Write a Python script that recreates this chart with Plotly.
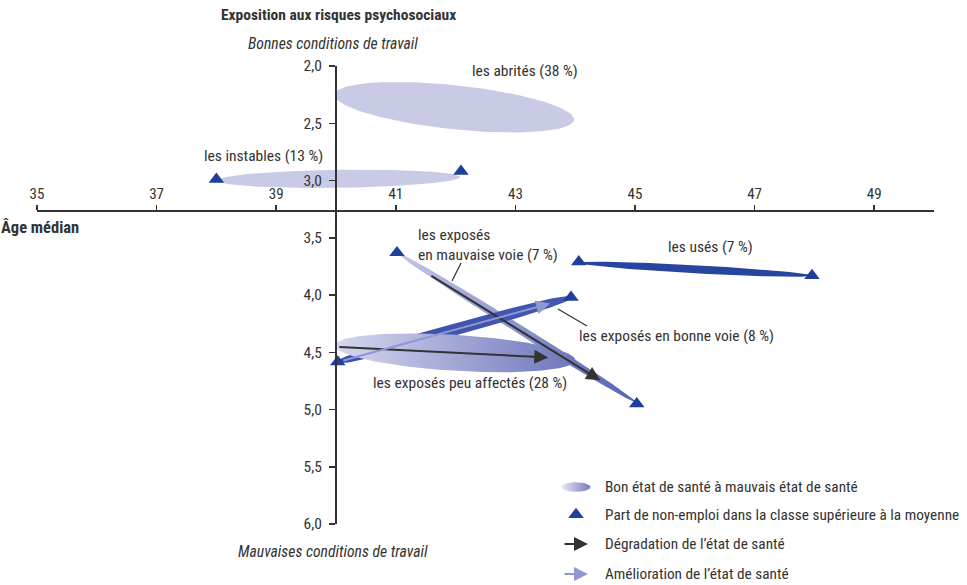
import numpy as np
import plotly.graph_objects as go

# ---------------- data ----------------
x_ticks = [35, 37, 39, 41, 43, 45, 47, 49]
y_ticks = [2.0, 2.5, 3.0, 3.5, 4.0, 4.5, 5.0, 5.5, 6.0]

group_labels = ["les abrités (38 %)", "les instables (13 %)",
                "les exposés<br>en mauvaise voie (7 %)", "les usés (7 %)",
                "les exposés en bonne voie (8 %)", "les exposés peu affectés (28 %)"]
# span of each class from one health state to the other (median age, exposure score)
span_age_start = [39.98, 38.01, 41.02, 44.06, 40.03, 39.98]
span_score_start = [2.25, 3.00, 3.63, 3.72, 4.585, 4.44]
span_age_end = [43.98, 42.07, 45.03, 47.96, 43.93, 44.00]
span_score_end = [2.47, 2.97, 4.94, 3.83, 4.02, 4.57]

# share of non-employment above average (triangles)
tri_age = [38.00, 42.09, 41.02, 45.03, 44.06, 47.96, 40.03, 43.93]
tri_score = [2.99, 2.92, 3.63, 4.95, 3.71, 3.83, 4.585, 4.02]

# evolution arrows
degr_age_from = [40.03, 41.57]
degr_score_from = [4.454, 3.825]
degr_age_to = [43.55, 44.42]
degr_score_to = [4.545, 4.745]
amel_age_from = [40.10]
amel_score_from = [4.575]
amel_age_to = [43.58]
amel_score_to = [4.074]

legend_texts = ["Bon état de santé à mauvais état de santé",
                "Part de non-emploi dans la classe supérieure à la moyenne",
                "Dégradation de l’état de santé",
                "Amélioration de l’état de santé"]

# ---------------- styling ----------------
FONT = "Liberation Sans Narrow, Arial Narrow, Roboto Condensed, Roboto, sans-serif"
TXT = "#333333"
W, H = 967, 585
ML, MR, MT, MB = 37, 33, 66, 0
X_RANGE = [35, 50]
Y_RANGE = [6.0, 2.0]
PLOT_BOTTOM_PX = 524
SX = (W - ML - MR) / (X_RANGE[1] - X_RANGE[0])            # px per year
SY = (PLOT_BOTTOM_PX - MT) / (Y_RANGE[0] - Y_RANGE[1])      # px per score unit
paper_h = H - MT - MB
y_dom0 = (H - MB - PLOT_BOTTOM_PX) / paper_h

span_half_px = [22, 9, 4.5, 4, 6, 18]
span_power = [2, 2, 2, 2, 2.6, 2]
span_colors = [("#c8cae6", "#c8cae6"), ("#c8cae6", "#c8cae6"), ("#c3c7e8", "#5563b3"),
               ("#2645a0", "#2645a0"), ("#3a4fa9", "#4558b0"), ("#d6d8ef", "#6f76bb")]
label_pos = [(43.16, 2.044, "center"), (38.78, 2.786, "center"), (41.34, 3.56, "left"),
             (46.27, 3.581, "center"), (45.69, 4.358, "center"), (42.24, 4.769, "center")]


def ellipse(x0, y0, x1, y1, half_px, power=2, n=160):
    X0, Y0, X1, Y1 = x0 * SX, y0 * SY, x1 * SX, y1 * SY
    cx, cy = (X0 + X1) / 2, (Y0 + Y1) / 2
    dx, dy = X1 - X0, Y1 - Y0
    a = np.hypot(dx, dy) / 2
    ux, uy = dx / (2 * a), dy / (2 * a)
    vx, vy = -uy, ux
    t = np.linspace(0, 2 * np.pi, n)
    c = np.sign(np.cos(t)) * np.abs(np.cos(t)) ** (2 / power)
    s = np.sign(np.sin(t)) * np.abs(np.sin(t)) ** (2 / power)
    px = cx + a * c * ux + half_px * s * vx
    py = cy + a * c * uy + half_px * s * vy
    return px / SX, py / SY


fig = go.Figure()

for i in range(len(group_labels)):
    ex, ey = ellipse(span_age_start[i], span_score_start[i], span_age_end[i],
                     span_score_end[i], span_half_px[i], span_power[i])
    c0, c1 = span_colors[i]
    kw = dict(x=ex, y=ey, mode="lines", fill="toself", line=dict(width=0),
              hoverinfo="skip", showlegend=False)
    if c0 != c1:
        kw["fillgradient"] = dict(type="horizontal", colorscale=[[0, c0], [1, c1]])
    else:
        kw["fillcolor"] = c0
    fig.add_trace(go.Scatter(**kw))

fig.add_trace(go.Scatter(x=tri_age, y=tri_score, mode="markers",
                         marker=dict(symbol="triangle-up", size=13.5, color="#1f3f9a"),
                         hoverinfo="skip", showlegend=False))

annotations = []
for xf, yf, xt, yt in zip(degr_age_from, degr_score_from, degr_age_to, degr_score_to):
    annotations.append(dict(x=xt, y=yt, ax=xf, ay=yf, xref="x", yref="y", axref="x", ayref="y",
                            text="", showarrow=True, arrowhead=2, arrowsize=1.4,
                            arrowwidth=2, arrowcolor="#333333"))
for xf, yf, xt, yt in zip(amel_age_from, amel_score_from, amel_age_to, amel_score_to):
    annotations.append(dict(x=xt, y=yt, ax=xf, ay=yf, xref="x", yref="y", axref="x", ayref="y",
                            text="", showarrow=True, arrowhead=2, arrowsize=1.4,
                            arrowwidth=2, arrowcolor="#9097d2"))

for lab, (lx, ly, al) in zip(group_labels, label_pos):
    annotations.append(dict(x=lx, y=ly, xref="x", yref="y", text=lab, showarrow=False,
                            xanchor=al, align="left", yanchor="middle",
                            font=dict(family=FONT, size=15.5, color=TXT)))


def pxx(p):
    return (p - ML) / (W - ML - MR)


def pxy(p):
    return (H - MB - p) / paper_h


# titles (paper coordinates, may lie outside the plotting area)
annotations += [
    dict(x=pxx(338), y=pxy(15), xref="paper", yref="paper", showarrow=False,
         text="<b>Exposition aux risques psychosociaux</b>", xanchor="center", yanchor="middle",
         font=dict(family=FONT, size=15.5, color=TXT)),
    dict(x=pxx(333), y=pxy(43), xref="paper", yref="paper", showarrow=False,
         text="<i>Bonnes conditions de travail</i>", xanchor="center", yanchor="middle",
         font=dict(family=FONT, size=15.7, color=TXT)),
    dict(x=pxx(333), y=pxy(551), xref="paper", yref="paper", showarrow=False,
         text="<i>Mauvaises conditions de travail</i>", xanchor="center", yanchor="middle",
         font=dict(family=FONT, size=15.7, color=TXT)),
    dict(x=pxx(40), y=pxy(228), xref="paper", yref="paper", showarrow=False,
         text="<b>Âge médian</b>", xanchor="center", yanchor="middle",
         font=dict(family=FONT, size=16.5, color=TXT)),
]

# legend (drawn on a pixel-coordinate overlay x2/y2)
leg_rows = [487, 514.5, 544, 574]
for txt, ry in zip(legend_texts, leg_rows):
    annotations.append(dict(x=603, y=ry, xref="x2", yref="y2", text=txt, showarrow=False,
                            xanchor="left", yanchor="middle",
                            font=dict(family=FONT, size=15.3, color=TXT)))
t = np.linspace(0, 2 * np.pi, 80)
fig.add_trace(go.Scatter(x=576 + 14.5 * np.cos(t), y=leg_rows[0] + 4.8 * np.sin(t),
                         xaxis="x2", yaxis="y2", mode="lines", fill="toself", line=dict(width=0),
                         fillgradient=dict(type="horizontal",
                                           colorscale=[[0, "#e6e7f5"], [1, "#767cbf"]]),
                         hoverinfo="skip", showlegend=False))
fig.add_trace(go.Scatter(x=[576], y=[leg_rows[1]], xaxis="x2", yaxis="y2", mode="markers",
                         marker=dict(symbol="triangle-up", size=13.5, color="#1f3f9a"),
                         hoverinfo="skip", showlegend=False))
for ry, col in zip(leg_rows[2:], ["#333333", "#9097d2"]):
    annotations.append(dict(x=588, y=ry, ax=563, ay=ry, xref="x2", yref="y2", axref="x2",
                            ayref="y2", text="", showarrow=True, arrowhead=2, arrowsize=1.4,
                            arrowwidth=2, arrowcolor=col))

shapes = [
    dict(type="line", xref="x2", yref="y2", x0=452, y0=281, x1=461, y1=263,
         line=dict(color="#333333", width=1.2)),
    dict(type="line", xref="x2", yref="y2", x0=558, y0=309, x1=587, y1=326,
         line=dict(color="#333333", width=1.2)),
]

fig.update_layout(
    template="none",
    width=W, height=H,
    margin=dict(l=ML, r=MR, t=MT, b=MB, pad=0),
    paper_bgcolor="white", plot_bgcolor="rgba(0,0,0,0)",
    separators=", ",
    showlegend=False,
    annotations=annotations,
    shapes=shapes,
    xaxis=dict(range=X_RANGE, domain=[0, 1], anchor="free", position=pxy(211),
               side="top",
               tickvals=x_ticks, ticks="outside", ticklen=5, tickwidth=1.5, tickcolor="#333333",
               showline=True, linecolor="#333333", linewidth=2, showgrid=False, zeroline=False,
               tickfont=dict(family=FONT, size=15, color=TXT), automargin=False, fixedrange=True),
    yaxis=dict(range=Y_RANGE, domain=[y_dom0, 1], anchor="free",
               position=(40 - X_RANGE[0]) / (X_RANGE[1] - X_RANGE[0]), side="left",
               tickvals=y_ticks, tickformat=".1f", ticks="outside", ticklen=6, tickwidth=1.5,
               tickcolor="#333333", showline=True, linecolor="#333333", linewidth=2,
               showgrid=False, zeroline=False, ticklabelstandoff=4,
               tickfont=dict(family=FONT, size=15.5, color=TXT), automargin=False, fixedrange=True),
    xaxis2=dict(range=[ML, W - MR], domain=[0, 1], anchor="y2", visible=False, fixedrange=True),
    yaxis2=dict(range=[H - MB, MT], domain=[0, 1], anchor="x2", visible=False, fixedrange=True),
)

fig.write_html("out.html", config={"displayModeBar": False, "staticPlot": True})
with open("out.html", "r", encoding="utf-8") as f:
    html = f.read()
html = html.replace("<head>", "<head><style>html,body{margin:0;padding:0;overflow:hidden;}</style>", 1)
with open("out.html", "w", encoding="utf-8") as f:
    f.write(html)
